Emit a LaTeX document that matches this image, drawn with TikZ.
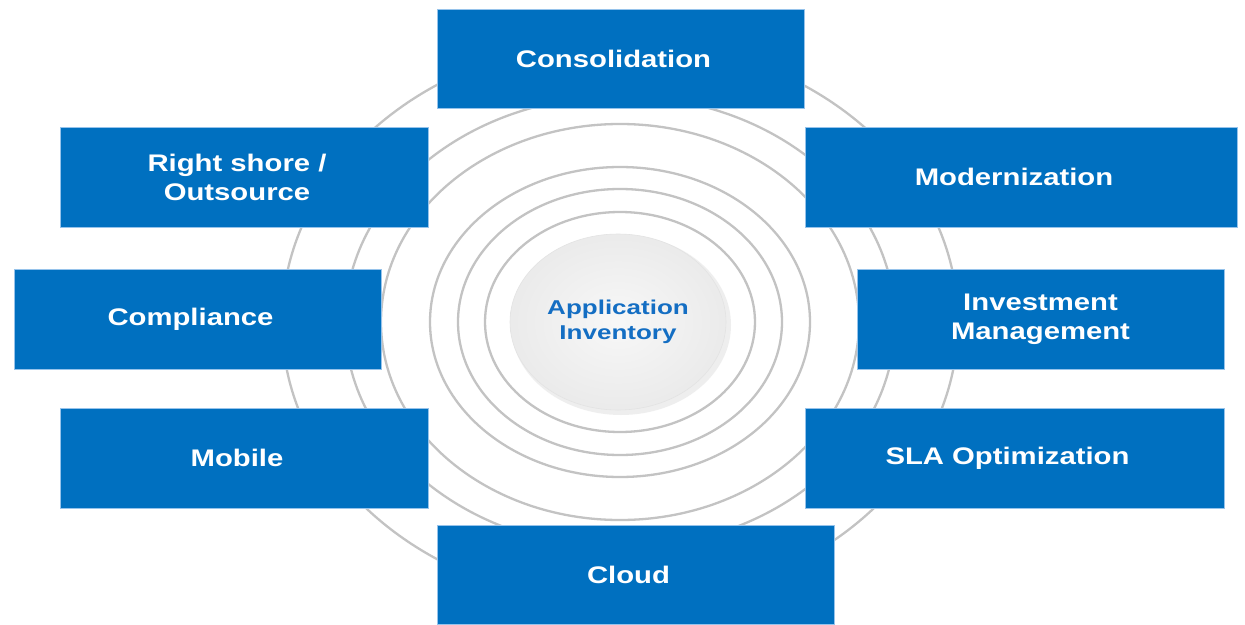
\documentclass[tikz,border=0pt]{standalone}
\usepackage{fontspec}
\usepackage{graphicx}
\setmainfont{Liberation Sans}
\usetikzlibrary{shapes.geometric}
\definecolor{boxblue}{RGB}{0,112,192}
\definecolor{boxedge}{RGB}{150,195,235}
\definecolor{ringgray}{RGB}{195,195,195}
\definecolor{txtblue}{RGB}{20,110,195}
\newcommand{\wtxt}[1]{\scalebox{1.22}[1]{#1}}
\newcommand{\ltxt}[1]{\hspace*{-14pt}\scalebox{1.22}[1]{#1}}
\newcommand{\ctxt}[1]{\scalebox{1.3}[1]{#1}}
\tikzset{
  ring/.style={draw=ringgray, line width=2.3pt},
  bluebox/.style={rectangle, fill=boxblue, draw=boxedge, line width=1pt, inner sep=0pt,
    text=white, align=center, font=\bfseries\fontsize{24}{29}\selectfont},
  hub/.style={ellipse, minimum width=216pt, minimum height=176pt, inner sep=0pt,
    draw=gray!22, line width=0.6pt, shading=radial, inner color=gray!6, outer color=gray!16,
    text=txtblue, align=center, font=\bfseries\fontsize{20}{25}\selectfont}
}
\begin{document}
\begin{tikzpicture}[x=1pt,y=-1pt]
\useasboundingbox (0,0) rectangle (1245,624);
\fill[white] (0,0) rectangle (1245,624);
% concentric rings
\foreach \rx/\ry in {135/110,162/133,190/155,239/198,275/226,338/282}{
  \draw[ring] (620,322) ellipse [x radius=\rx, y radius=\ry];
}
% soft shadow of hub
\fill[gray!25, opacity=0.5] (621,325) ellipse [x radius=110, y radius=90];
\node[hub] (hub) at (618,322) {\ctxt{Application}\\\ctxt{Inventory}};
% boxes
\node[bluebox, minimum width=367pt, minimum height=99pt] (cons) at (620.5,58.5) {\ltxt{Consolidation}};
\node[bluebox, minimum width=368pt, minimum height=100pt] (shore) at (244,177) {\ltxt{Right shore /}\\\ltxt{Outsource}};
\node[bluebox, minimum width=432pt, minimum height=100pt] (mod) at (1021,177) {\ltxt{Modernization}};
\node[bluebox, minimum width=367pt, minimum height=100pt] (comp) at (197.5,319) {\ltxt{Compliance}};
\node[bluebox, minimum width=367pt, minimum height=100pt] (inv) at (1040.5,319) {\wtxt{Investment}\\\wtxt{Management}};
\node[bluebox, minimum width=368pt, minimum height=100pt] (mob) at (244,458) {\ltxt{Mobile}};
\node[bluebox, minimum width=419pt, minimum height=100pt] (sla) at (1014.5,458) {\ltxt{SLA Optimization}};
\node[bluebox, minimum width=397pt, minimum height=99pt] (cloud) at (635.5,574.5) {\ltxt{Cloud}};
\end{tikzpicture}
\end{document}
